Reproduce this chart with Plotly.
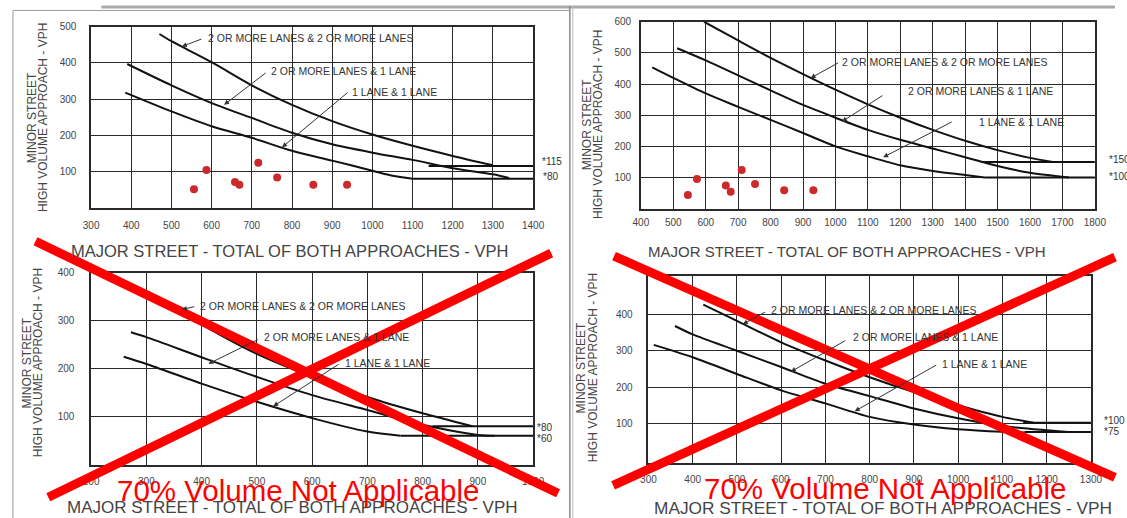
import plotly.graph_objects as go

W, H = 1127, 518

# ---------------- DATA ----------------
# Panel 1: four-hour volume (100%)
p1_x_22 = [470, 500, 600, 700, 800, 900, 1000, 1100, 1200, 1300]
p1_y_22 = [480, 460, 402, 338, 284, 239, 202, 171, 143, 117]
p1_x_21 = [390, 500, 600, 700, 800, 900, 1000, 1100, 1200, 1300, 1340]
p1_y_21 = [397, 338, 289, 248, 207, 175, 152, 132, 109, 92, 82]
p1_x_11 = [385, 500, 600, 700, 800, 900, 1000, 1050, 1100]
p1_y_11 = [318, 266, 225, 193, 157, 130, 102, 88, 80]
p1_flat_x = [[1140, 1400], [1100, 1400]]
p1_flat_y = [115, 80]
p1_dots_x = [556, 587, 658, 669, 716, 763, 853, 937]
p1_dots_y = [51, 104, 71, 63, 124, 83, 63, 63]

# Panel 2: peak hour (100%)
p2_x_22 = [595, 700, 800, 900, 1000, 1100, 1200, 1300, 1400, 1500, 1600, 1670]
p2_y_22 = [600, 540, 484, 432, 382, 335, 292, 253, 218, 188, 163, 150]
p2_x_21 = [512, 600, 700, 800, 900, 1000, 1100, 1200, 1300, 1400, 1500, 1600, 1720]
p2_y_21 = [515, 476, 428, 380, 333, 292, 253, 221, 193, 165, 137, 115, 100]
p2_x_11 = [435, 500, 600, 700, 800, 900, 1000, 1100, 1200, 1300, 1400, 1460]
p2_y_11 = [454, 420, 370, 327, 285, 243, 200, 168, 139, 121, 108, 100]
p2_flat_x = [[1450, 1800], [1460, 1800]]
p2_flat_y = [150, 100]
p2_dots_x = [545, 573, 662, 677, 711, 752, 842, 932]
p2_dots_y = [44, 95, 74, 54, 124, 79, 59, 59]

# Panel 3: four-hour volume (70%)
p3_x_22 = [360, 400, 500, 600, 700, 800, 890]
p3_y_22 = [328, 293, 231, 183, 141, 107, 80]
p3_x_21 = [272, 300, 400, 500, 600, 700, 800, 900, 930]
p3_y_21 = [276, 266, 224, 183, 145, 114, 83, 62, 60]
p3_x_11 = [259, 300, 400, 500, 600, 700, 760]
p3_y_11 = [225, 210, 169, 131, 97, 69, 60]
p3_flat_x = [[818, 1000], [760, 1000]]
p3_flat_y = [80, 60]

# Panel 4: peak hour (70%)
p4_x_22 = [424, 500, 600, 700, 800, 900, 1000, 1100, 1170]
p4_y_22 = [427, 382, 323, 273, 227, 186, 150, 118, 102]
p4_x_21 = [360, 400, 500, 600, 700, 800, 900, 1000, 1100, 1200, 1250]
p4_y_21 = [368, 345, 300, 255, 209, 175, 141, 114, 93, 81, 76]
p4_x_11 = [312, 400, 500, 600, 700, 800, 900, 1000, 1100, 1150]
p4_y_11 = [316, 282, 236, 191, 155, 118, 97, 84, 77, 75]
p4_flat_x = [[1147, 1300], [1150, 1300]]
p4_flat_y = [102, 76]

x_ticks = [
    list(range(300, 1401, 100)),
    list(range(400, 1801, 100)),
    list(range(200, 1001, 100)),
    list(range(300, 1301, 100)),
]
y_ticks = [
    list(range(100, 501, 100)),
    list(range(100, 601, 100)),
    list(range(100, 401, 100)),
    list(range(100, 401, 100)),
]
x_ranges = [[300, 1400], [400, 1800], [200, 1000], [300, 1300]]
y_ranges = [[0, 500], [0, 600], [0, 400], [-8, 506]]

curve_labels = ["2 OR MORE LANES & 2 OR MORE LANES", "2 OR MORE LANES & 1 LANE", "1 LANE & 1 LANE"]
star_labels = [["*115", "*80"], ["*150", "*100"], ["*80", "*60"], ["*100", "*75"]]
x_title = "MAJOR STREET - TOTAL OF BOTH APPROACHES - VPH"
y_title_1 = "MINOR STREET"
y_title_2 = "HIGH VOLUME APPROACH - VPH"
stamp = "70% Volume Not Applicable"

# ---------------- LAYOUT (pixels) ----------------
def px(x):
    return x / W


def py(y):
    return 1 - y / H


# plot-area boxes: left, right, top, bottom (pixels)
boxes = [(84.6, 534.6, 21, 204), (644.3, 1106.5, 16, 205), (84.6, 534.6, 270, 464), (652, 1102.5, 273, 462)]
ylab_standoff = [11, 6, 13, 12]
xlab_standoff = [8, 4, 7, 7]

FONT = "Liberation Sans, Arial, sans-serif"
fig = go.Figure()

panels = [
    (p1_x_22, p1_y_22, p1_x_21, p1_y_21, p1_x_11, p1_y_11, p1_flat_x, p1_flat_y),
    (p2_x_22, p2_y_22, p2_x_21, p2_y_21, p2_x_11, p2_y_11, p2_flat_x, p2_flat_y),
    (p3_x_22, p3_y_22, p3_x_21, p3_y_21, p3_x_11, p3_y_11, p3_flat_x, p3_flat_y),
    (p4_x_22, p4_y_22, p4_x_21, p4_y_21, p4_x_11, p4_y_11, p4_flat_x, p4_flat_y),
]

line_style = dict(color="#111111", width=2)
for i, (xa, ya, xb, yb, xc, yc, fx, fy) in enumerate(panels):
    sfx = "" if i == 0 else str(i + 1)
    xr, yr = "x" + sfx, "y" + sfx
    for cx, cy in [(xa, ya), (xb, yb), (xc, yc)]:
        fig.add_trace(go.Scatter(x=cx, y=cy, mode="lines", line=dict(shape="spline", smoothing=0.8, **line_style),
                                 xaxis=xr, yaxis=yr, showlegend=False, hoverinfo="skip"))
    for sx, sy in zip(fx, fy):
        fig.add_trace(go.Scatter(x=sx, y=[sy, sy], mode="lines", line=line_style,
                                 xaxis=xr, yaxis=yr, showlegend=False, hoverinfo="skip"))

for i, (dx, dy) in enumerate([(p1_dots_x, p1_dots_y), (p2_dots_x, p2_dots_y)]):
    sfx = "" if i == 0 else str(i + 1)
    fig.add_trace(go.Scatter(x=dx, y=dy, mode="markers", marker=dict(color="#cc2a2a", size=8),
                             xaxis="x" + sfx, yaxis="y" + sfx, showlegend=False, hoverinfo="skip"))

layout = dict(
    width=W, height=H, margin=dict(l=0, r=0, t=0, b=0),
    paper_bgcolor="white", plot_bgcolor="white",
    font=dict(family=FONT, color="#333"),
)
for i, (l, r, t, b) in enumerate(boxes):
    sfx = "" if i == 0 else str(i + 1)
    common = dict(showgrid=True, gridcolor="#2a2a2a", gridwidth=1.3, showline=True, linecolor="#2a2a2a",
                  linewidth=1.5, mirror=True, zeroline=False, ticks="",
                  tickfont=dict(size=10, color="#444", family=FONT))
    layout["xaxis" + sfx] = dict(domain=[px(l), px(r)], range=x_ranges[i], tickvals=x_ticks[i],
                                 anchor="y" + sfx, ticklabelstandoff=xlab_standoff[i], **common)
    layout["yaxis" + sfx] = dict(domain=[py(b), py(t)], range=y_ranges[i], tickvals=y_ticks[i],
                                 anchor="x" + sfx, ticklabelstandoff=ylab_standoff[i], **common)
fig.update_layout(**layout)

ann = []
# axis titles
for (cx, cy, sz) in [(287, 248, 16.5), (854, 248, 15), (290, 507, 17), (891, 508, 17.3)]:
    ann.append(dict(x=px(cx), y=py(cy), xref="paper", yref="paper", text=x_title, showarrow=False,
                    font=dict(size=sz, color="#444", family=FONT), xanchor="center", yanchor="middle"))
for (x1, x2, cy) in [(24, 35, 113), (589, 600, 120), (19, 30, 361), (583, 595, 366)]:
    for (xx, txt) in [(x1, y_title_1), (x2, y_title_2)]:
        ann.append(dict(x=px(xx), y=py(cy), xref="paper", yref="paper", text=txt, showarrow=False,
                        textangle=-90, font=dict(size=12, color="#444", family=FONT),
                        xanchor="center", yanchor="middle"))

# curve labels: (text-left x, text y) and arrows (head, tail) in pixels
label_pos = [
    [(202, 32), (266, 66), (348, 87)],
    [(847, 57), (914, 86), (987, 117)],
    [(193, 304), (259, 335), (341, 361)],
    [(775, 308), (858, 335), (949, 362)],
]
arrows = [
    [((177, 41), (198, 33)), ((220, 100), (263, 67)), ((279, 143), (346, 87))],
    [((817, 73), (846, 57)), ((849, 117), (891, 90)), ((891, 153), (961, 117))],
    [((177, 307), (191, 304)), ((204, 362), (255, 337)), ((270, 405), (337, 362))],
    [((748, 322), (772, 309)), ((797, 370), (853, 338)), ((862, 410), (945, 363))],
]
for i in range(4):
    for k in range(3):
        tx, ty = label_pos[i][k]
        ann.append(dict(x=px(tx), y=py(ty), xref="paper", yref="paper", text=curve_labels[k],
                        showarrow=False, xanchor="left", yanchor="middle",
                        font=dict(size=10.5, color="#333", family=FONT)))
        (hx, hy), (ttx, tty) = arrows[i][k]
        ann.append(dict(x=px(hx), y=py(hy), xref="paper", yref="paper", text="", showarrow=True,
                        ax=ttx - hx, ay=tty - hy, axref="pixel", ayref="pixel",
                        arrowhead=2, arrowsize=1, arrowwidth=1, arrowcolor="#333"))

star_pos = [[(542, 157), (543, 173)], [(1119, 155), (1119, 172)], [(537, 426), (537, 438)], [(1114, 419), (1114, 430)]]
for i in range(4):
    for k in range(2):
        sx, sy = star_pos[i][k]
        ann.append(dict(x=px(sx), y=py(sy), xref="paper", yref="paper", text=star_labels[i][k],
                        showarrow=False, xanchor="left", yanchor="middle",
                        font=dict(size=10, color="#333", family=FONT)))

for (cx, cy) in [(295, 490), (893, 488)]:
    ann.append(dict(x=px(cx), y=py(cy), xref="paper", yref="paper", text=stamp, showarrow=False,
                    xanchor="center", yanchor="middle", font=dict(size=29.5, color="#ff0000", family=FONT)))

shapes = []
# frame lines
for (x0, y0, x1, y1, c, w) in [(5, 5, 5, 518, "#999", 1), (5, 4.5, 572, 4.5, "#999", 1),
                               (95, 1, 1127, 1, "#aaa", 3), (572, 0, 572, 518, "#888", 1.5),
                               (575, 0, 575, 518, "#bbb", 1)]:
    shapes.append(dict(type="line", xref="paper", yref="paper", x0=px(x0), y0=py(y0), x1=px(x1), y1=py(y1),
                       line=dict(color=c, width=w), layer="above"))
# red crosses
for (x0, y0, x1, y1) in [(28, 238, 560, 493), (41, 497, 553, 250), (617, 253, 1127, 477), (616, 485, 1127, 254)]:
    shapes.append(dict(type="line", xref="paper", yref="paper", x0=px(x0), y0=py(y0), x1=px(x1), y1=py(y1),
                       line=dict(color="#ff0000", width=9), layer="above"))

fig.update_layout(annotations=ann, shapes=shapes)
fig.write_html("out.html", config={"displayModeBar": False},
               post_script="document.body.style.margin='0';document.body.style.overflow='hidden';")
